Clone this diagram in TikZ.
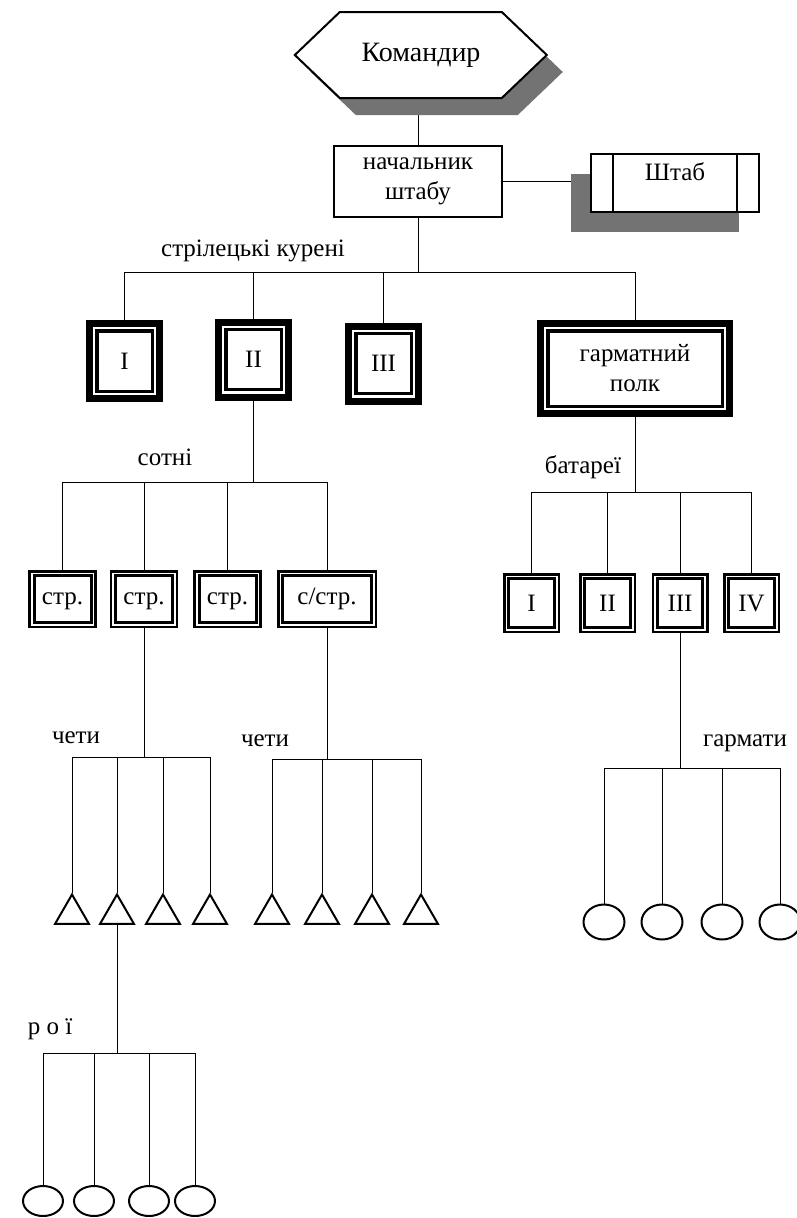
\documentclass[tikz,border=0pt]{standalone}
\usepackage{fontspec}
\setmainfont{Liberation Serif}
\usetikzlibrary{shadows, backgrounds, shapes.geometric}

\begin{document}
\begin{tikzpicture}[
            x=1pt, y=-1pt,
            every node/.style={font=\fontsize{25}{30}\selectfont, inner sep=0pt},
            link/.style={line width=2pt},
            dither/.style={opacity=1, fill=black!55},
            chief/.style={draw, line width=2pt, align=center,
                minimum width=168pt, minimum height=71pt},
            staff/.style={
                draw, fill=white, line width=2pt, minimum width=168pt, minimum height=58pt,
                text height=17pt, text depth=22pt,
                drop shadow={shadow xshift=-20pt, shadow yshift=-20pt, dither},
                path picture={
                    \draw[line width=2pt]
                        ([xshift=22pt]path picture bounding box.north west) -- ([xshift=22pt]path picture bounding box.south west)
                        ([xshift=-22pt]path picture bounding box.north east) -- ([xshift=-22pt]path picture bounding box.south east);
                }
            },
            kurin/.style={
                draw, line width=7pt, minimum width=70pt, minimum height=75pt,
                path picture={
                    \draw[line width=3.4pt] ([shift={(7.3pt,-7.3pt)}]path picture bounding box.north west)
                        rectangle ([shift={(-7.3pt,7.3pt)}]path picture bounding box.south east);
                }
            },
            dbox/.style={
                draw, line width=2.5pt,
                path picture={
                    \draw[line width=3pt] ([shift={(4.5pt,-4.5pt)}]path picture bounding box.north west)
                        rectangle ([shift={(-4.5pt,4.5pt)}]path picture bounding box.south east);
                }
            },
            sotnia/.style={dbox, minimum width=66pt, minimum height=55.5pt, text height=11.5pt, text depth=0pt},
            battery/.style={dbox, minimum width=54.5pt, minimum height=57.5pt},
            cheta/.style={draw, line width=2pt, regular polygon, regular polygon sides=3, minimum size=39pt},
            rij/.style={draw, line width=2pt, ellipse, minimum width=40pt, minimum height=30pt},
            gun/.style={draw, line width=2pt, ellipse, minimum width=41pt, minimum height=35pt}
        ]

            \useasboundingbox (0,0) rectangle (796,1218);

            % Command
            \node[minimum width=252pt, minimum height=86pt, font=\fontsize{28}{32}\selectfont] (cmd) at (421,55) {Командир};
            \node[chief] (nsh) at (418,181.5) {начальник\\штабу};
            \node[staff] (shtab) at (675,183) {Штаб};

            % Battalions and artillery regiment
            \node (lkur) at (253,256) [anchor=base] {стрілецькі курені};
            \node[kurin] (k1) at (124.5,361) {I};
            \node[kurin] (k2) at (253.5,359.5) {II};
            \node[kurin] (k3) at (383.5,363.5) {III};
            \node[kurin, align=center, minimum width=189pt, minimum height=90pt] (gp) at (635,368.5) {гарматний\\полк};

            % Companies
            \node (lsot) at (165,465) [anchor=base] {сотні};
            \node[sotnia] (s1) at (62.5,599) {стр.};
            \node[sotnia] (s2) at (144,599) {стр.};
            \node[sotnia] (s3) at (227.5,599) {стр.};
            \node[sotnia, minimum width=97.5pt] (s4) at (327,599) {с/стр.};

            % Batteries
            \node (lbat) at (583,473) [anchor=base] {батареї};
            \node[battery] (b1) at (531.5,603) {I};
            \node[battery] (b2) at (607.5,603) {II};
            \node[battery] (b3) at (680,603) {III};
            \node[battery] (b4) at (751.5,603) {IV};

            % Platoons
            \node (lch1) at (76,743) [anchor=base] {чети};
            \node (lch2) at (265,746) [anchor=base] {чети};
            \node[cheta] (t1) at (72,914) {};
            \node[cheta] (t2) at (117,914) {};
            \node[cheta] (t3) at (163,914) {};
            \node[cheta] (t4) at (210,914) {};
            \node[cheta] (t5) at (272,914) {};
            \node[cheta] (t6) at (322,914) {};
            \node[cheta] (t7) at (372,914) {};
            \node[cheta] (t8) at (421,914) {};

            % Squads
            \node (lroi) at (50,1034) [anchor=base] {р о ї};
            \node[rij] (r1) at (43,1201) {};
            \node[rij] (r2) at (94,1201) {};
            \node[rij] (r3) at (149,1201) {};
            \node[rij] (r4) at (195,1201) {};

            % Guns
            \node (lgun) at (745,746) [anchor=base] {гармати};
            \node[gun] (g1) at (604,922) {};
            \node[gun] (g2) at (662,922) {};
            \node[gun] (g3) at (722,922) {};
            \node[gun] (g4) at (780,922) {};

            % Connectors
            \begin{scope}[on background layer, link]
                \coordinate (kbar) at (418,272);
                \coordinate (sbar) at (252,482);
                \coordinate (bbar) at (635,492);
                \coordinate (cbar1) at (143,757);
                \coordinate (cbar2) at (325,759);
                \coordinate (rbar) at (117,1053);
                \coordinate (gbar) at (678,768);

                \draw (nsh.north) -- (nsh.north |- cmd.south);
                \draw (nsh.east) -- (nsh.east -| shtab.west);

                \draw (nsh) -- (kbar);
                \draw (k1.north |- kbar) -- (gp.north |- kbar);
                \foreach \n in {k1,k2,k3,gp}
                    \draw (\n.north |- kbar) -- (\n);

                \draw (k2.south) -- (k2.south |- sbar);
                \draw (s1.north |- sbar) -- (s4.north |- sbar);
                \foreach \n in {s1,s2,s3,s4}
                    \draw (\n.north |- sbar) -- (\n);

                \draw (gp.south) -- (gp.south |- bbar);
                \draw (b1.north |- bbar) -- (b4.north |- bbar);
                \foreach \n in {b1,b2,b3,b4}
                    \draw (\n.north |- bbar) -- (\n);

                \draw (s2.south) -- (s2.south |- cbar1);
                \draw (t1.north |- cbar1) -- (t4.north |- cbar1);
                \foreach \n in {t1,t2,t3,t4}
                    \draw (\n.north |- cbar1) -- (\n.north);

                \draw (s4.south) -- (s4.south |- cbar2);
                \draw (t5.north |- cbar2) -- (t8.north |- cbar2);
                \foreach \n in {t5,t6,t7,t8}
                    \draw (\n.north |- cbar2) -- (\n.north);

                \draw (t2.south) -- (t2.south |- rbar);
                \draw (r1.north |- rbar) -- (r4.north |- rbar);
                \foreach \n in {r1,r2,r3,r4}
                    \draw (\n.north |- rbar) -- (\n);

                \draw (b3.south) -- (b3.south |- gbar);
                \draw (g1.north |- gbar) -- (g4.north |- gbar);
                \foreach \n in {g1,g2,g3,g4}
                    \draw (\n.north |- gbar) -- (\n);
            \end{scope}

            % Hexagon of the commander with its shadow
            \begin{scope}[on background layer]
                \fill[dither] ([shift={(16pt,-17pt)}]cmd.west) -- ++(45,-43) -- ++(162,0) -- ++(45,43) -- ++(-45,43) -- ++(-162,0) -- cycle;
                \draw[link, fill=white] (cmd.west) -- ++(45,-43) -- ++(162,0) -- ++(45,43) -- ++(-45,43) -- ++(-162,0) -- cycle;
            \end{scope}

        \end{tikzpicture}
\end{document}
